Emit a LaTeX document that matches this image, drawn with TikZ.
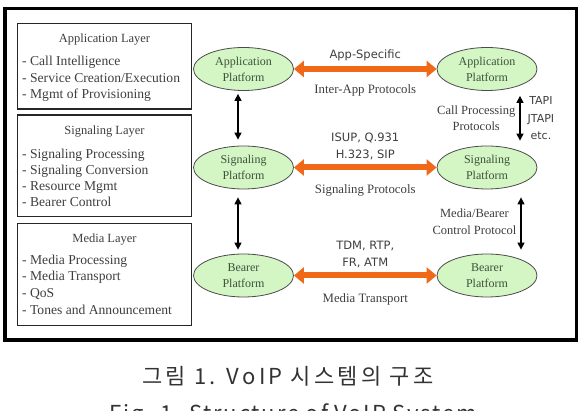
\documentclass[tikz,border=0pt]{standalone}
\usepackage{fontspec}
\setmainfont{Liberation Serif}
\setsansfont{DejaVu Sans}
\newfontfamily\krfont[LetterSpace=15]{Noto Sans CJK KR}
\newfontfamily\capfont[LetterSpace=8]{Noto Sans CJK KR}
\usepackage{tikz}
\usetikzlibrary{positioning,arrows.meta,shapes.geometric}
\definecolor{platgreen}{RGB}{212,245,196}
\definecolor{platgray}{RGB}{60,82,60}
\definecolor{txtgray}{RGB}{62,62,62}
\definecolor{protoorange}{RGB}{240,105,25}

\begin{document}
\begin{tikzpicture}[x=1pt,y=-1pt,
  layerbox/.style={draw=black!85,line width=1.1pt,minimum width=174pt,inner sep=0pt},
  platform/.style={ellipse,draw=black!70,line width=0.8pt,fill=platgreen,minimum width=100pt,minimum height=43pt,inner sep=0pt,align=center,text=platgray,font=\fontsize{12}{16}\selectfont},
  boxtxt/.style={text=txtgray,font=\fontsize{13.6}{15}\selectfont,inner sep=0pt},
  proto/.style={draw=protoorange,line width=6pt,{Triangle[length=10pt,width=16pt]}-{Triangle[length=10pt,width=16pt]}},
  ctrl/.style={draw=black,line width=1.4pt,{Triangle[length=7pt,width=7pt]}-{Triangle[length=7pt,width=7pt]}},
  lbl/.style={text=txtgray,font=\fontsize{12.8}{16.5}\selectfont,align=center,inner sep=1pt},
  slbl/.style={text=txtgray,font=\sffamily\fontsize{11.5}{16.5}\selectfont,align=center,inner sep=1pt}]
  \useasboundingbox (0,0) rectangle (587,411);
  \draw[line width=3.5pt] (5,8.5) rectangle (576.5,340);

  \node[layerbox,minimum height=85.7pt] (applayer) at (104.5,66.2) {};
  \node[layerbox,minimum height=101.7pt] (siglayer) at (104.5,165.9) {};
  \node[layerbox,minimum height=102.4pt] (medlayer) at (104.5,274.5) {};
  \node[boxtxt,anchor=base,font=\fontsize{12.5}{15}\selectfont] (apptitle) at (104.5,43) {Application Layer};
  \node[boxtxt,anchor=base,font=\fontsize{12.5}{15}\selectfont] (sigtitle) at (104.5,135) {Signaling Layer};
  \node[boxtxt,anchor=base,font=\fontsize{12.5}{15}\selectfont] (medtitle) at (104.5,243) {Media Layer};
  \foreach \t/\yy in {Call Intelligence/66,{Service Creation/Execution}/83,Mgmt of Provisioning/99,
      Signaling Processing/159,Signaling Conversion/175,Resource Mgmt/191,Bearer Control/207,
      Media Processing/265,Media Transport/281,QoS/298,Tones and Announcement/315}{
    \node[boxtxt,anchor=base west] (item\yy) at (22,\yy) {- \t};
  }

  \node[platform] (appL) at (243.5,69) {Application\\Platform};
  \node[platform] (sigL) at (243.5,167.5) {Signaling\\Platform};
  \node[platform] (bearL) at (243.5,275.5) {Bearer\\Platform};
  \node[platform] (appR) at (487,69) {Application\\Platform};
  \node[platform] (sigR) at (487,167.5) {Signaling\\Platform};
  \node[platform] (bearR) at (487,275.5) {Bearer\\Platform};

  \draw[proto] (appL) -- node[above=4pt,slbl]{App-Specific} node[below=12pt,lbl]{Inter-App Protocols} (appR);
  \draw[proto] (sigL) -- node[above=4pt,slbl]{ISUP, Q.931\\H.323, SIP} node[below=13pt,lbl]{Signaling Protocols} (sigR);
  \draw[proto] (bearL) -- node[above=4pt,slbl]{TDM, RTP,\\FR, ATM} node[below=14pt,lbl]{Media Transport} (bearR);

  \draw[ctrl,shorten <=3pt,shorten >=6pt] ([xshift=-5.5pt]appL.south) -- ([xshift=-5.5pt]sigL.north);
  \draw[ctrl,shorten <=8pt,shorten >=4pt] ([xshift=-5.5pt]sigL.south) -- ([xshift=-5.5pt]bearL.north);
  \draw[ctrl,shorten <=5pt,shorten >=5pt] ([xshift=33pt]appR.south) --
    node[left=3pt,lbl,font=\fontsize{12.5}{16.5}\selectfont]{Call Processing\\Protocols} node[right=6pt,slbl,font=\sffamily\fontsize{11}{17.5}\selectfont]{TAPI\\JTAPI\\etc.} ([xshift=33pt]sigR.north);
  \draw[ctrl,shorten <=8pt,shorten >=4pt] ([xshift=34pt]sigR.south) --
    node[left=3pt,lbl,font=\fontsize{12.5}{16.5}\selectfont]{Media/Bearer\\Control Protocol} ([xshift=34pt]bearR.north);

  \node[text=black!80,font=\krfont\fontsize{22}{24}\selectfont,inner sep=0pt] (capkr) at (288,376) {그림 1. VoIP 시스템의 구조};
  \node[text=black!80,font=\capfont\fontsize{22}{24}\selectfont,inner sep=0pt,anchor=north] (capen) at (293,404) {Fig. 1. Structure of VoIP System};
\end{tikzpicture}
\end{document}
